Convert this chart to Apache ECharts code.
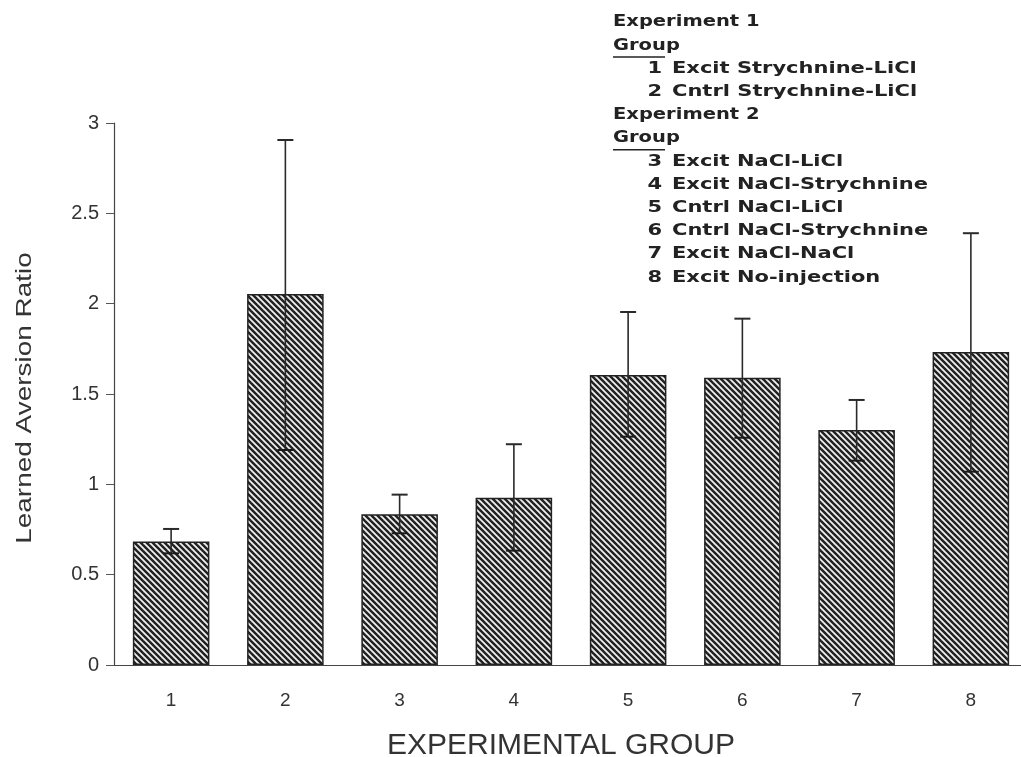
<!DOCTYPE html>
<html><head><meta charset="utf-8">
<script src="https://cdn.jsdelivr.net/npm/echarts@6/dist/echarts.min.js"></script>
<style>html,body{margin:0;padding:0;background:#fff;overflow:hidden}#c{width:1021px;height:757px}</style>
</head><body><div id="c"></div>
<script>
var categories = ['1','2','3','4','5','6','7','8'];
var means = [0.683, 2.053, 0.834, 0.926, 1.605, 1.590, 1.301, 1.733];
var errHigh = [0.753, 2.906, 0.943, 1.222, 1.954, 1.917, 1.467, 2.39];
var errLow = [0.618, 1.19, 0.729, 0.633, 1.264, 1.258, 1.131, 1.07];
var yTicks = [0, 0.5, 1, 1.5, 2, 2.5, 3];
var legendLines = [
  ['', 'Experiment 1', 'head'],
  ['', 'Group', 'under'],
  ['1', 'Excit Strychnine-LiCl', 'item'],
  ['2', 'Cntrl Strychnine-LiCl', 'item'],
  ['', 'Experiment 2', 'head'],
  ['', 'Group', 'under'],
  ['3', 'Excit NaCl-LiCl', 'item'],
  ['4', 'Excit NaCl-Strychnine', 'item'],
  ['5', 'Cntrl NaCl-LiCl', 'item'],
  ['6', 'Cntrl NaCl-Strychnine', 'item'],
  ['7', 'Excit NaCl-NaCl', 'item'],
  ['8', 'Excit No-injection', 'item']
];

// hatch pattern
var pc = document.createElement('canvas');
pc.width = 6; pc.height = 6;
var g = pc.getContext('2d');
g.fillStyle = '#f2f2f2'; g.fillRect(0,0,6,6);
g.strokeStyle = '#222'; g.lineWidth = 2.5;
[-6,0,6].forEach(function(c){ g.beginPath(); g.moveTo(c-1,-1); g.lineTo(c+7,7); g.stroke(); });

var chart = echarts.init(document.getElementById('c'));
var font = "'Liberation Sans', Arial, sans-serif";
var lfont = "'DejaVu Sans', sans-serif";
var lfs = 'bold 15px ' + lfont;
var sx = 1.4;

var graphics = [];
var ly = 15, lstep = 23.2;
legendLines.forEach(function(l, i){
  var y = ly + i * lstep;
  if (l[2] === 'item') {
    graphics.push({type:'text', x: 662, y: y, scaleX: sx, style:{text:l[0], font:lfs, fill:'#222', align:'right', verticalAlign:'top'}});
    graphics.push({type:'text', x: 672, y: y, scaleX: sx, style:{text:l[1], font:lfs, fill:'#222', verticalAlign:'top'}});
  } else {
    graphics.push({type:'text', x: 613, y: y, scaleX: 1.3, style:{text:l[1], font:lfs, fill:'#222', verticalAlign:'top'}});
    if (l[2] === 'under') {
      graphics.push({type:'rect', x: 613, y: y + 18, shape:{width:52, height:1.5}, style:{fill:'#222'}});
    }
  }
});
graphics.push({type:'text', x: 25, y: 398, rotation: Math.PI/2, scaleX: 1.27,
  style:{text:'Learned Aversion Ratio', font:'22px ' + font, fill:'#333', align:'center', verticalAlign:'middle'}});

chart.setOption({
  animation: false,
  backgroundColor: '#fff',
  grid: {left: 114, right: -7, top: 123, bottom: 92, containLabel: false, outerBoundsMode: 'none'},
  xAxis: {
    type: 'category', data: categories,
    name: 'EXPERIMENTAL GROUP', nameLocation: 'middle', nameGap: 66,
    nameTextStyle: {fontFamily: font, fontSize: 30, color: '#333', padding: [0, 20, 0, 0]},
    axisLine: {lineStyle: {color: '#444', width: 1.2}},
    axisTick: {alignWithLabel: true, length: 7, lineStyle: {color: '#555'}},
    axisLabel: {fontFamily: font, fontSize: 19, color: '#333', margin: 26}
  },
  yAxis: {
    type: 'value', min: yTicks[0], max: yTicks[yTicks.length-1], interval: 0.5,
    splitLine: {show: false},
    axisLine: {show: true, lineStyle: {color: '#444', width: 1.2}},
    axisTick: {show: true, length: 8, lineStyle: {color: '#555'}},
    axisLabel: {fontFamily: font, fontSize: 20, color: '#333', margin: 15}
  },
  series: [{
    type: 'bar', data: means, barCategoryGap: '33%',
    itemStyle: {color: {image: pc, repeat: 'repeat'}, borderColor: '#222', borderWidth: 1.5}
  }, {
    type: 'custom',
    data: categories.map(function(c, i){ return [i, errLow[i], errHigh[i]]; }),
    renderItem: function(params, api){
      var x = api.value(0);
      var lo = api.coord([x, api.value(1)]);
      var hi = api.coord([x, api.value(2)]);
      var hw = 8;
      var st = {stroke: '#2a2a2a', lineWidth: 1.6};
      return {type: 'group', children: [
        {type:'line', shape:{x1:hi[0], y1:hi[1], x2:lo[0], y2:lo[1]}, style: st},
        {type:'line', shape:{x1:hi[0]-hw, y1:hi[1], x2:hi[0]+hw, y2:hi[1]}, style: {stroke:'#2a2a2a', lineWidth: 2}},
        {type:'line', shape:{x1:lo[0]-hw, y1:lo[1], x2:lo[0]+hw, y2:lo[1]}, style: {stroke:'#1a1a1a', lineWidth: 2}}
      ]};
    },
    z: 5
  }],
  graphic: graphics
});
</script></body></html>
